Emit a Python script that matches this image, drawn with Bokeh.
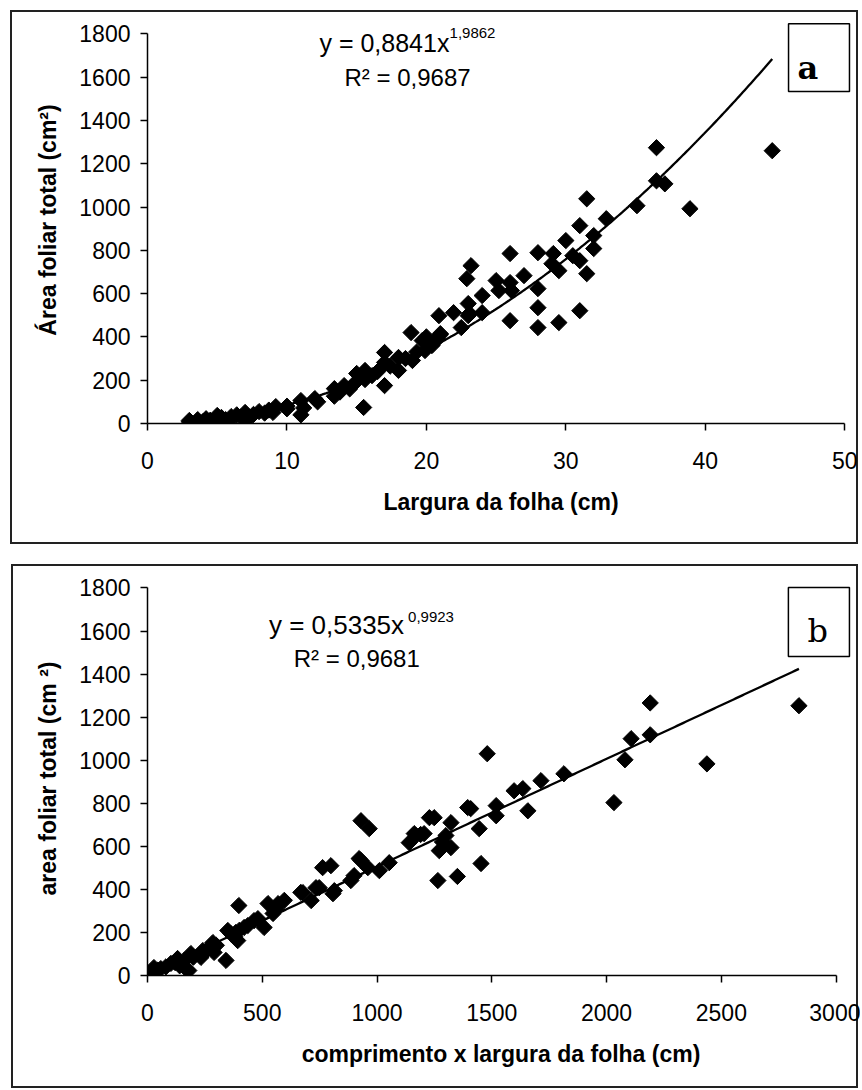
import numpy as np
from bokeh.plotting import figure
from bokeh.models import FixedTicker, Label, BoxAnnotation
from bokeh.layouts import column
from bokeh.embed import file_html
from bokeh.resources import INLINE

FONT = "Liberation Sans"

# ---------------- data: panel a (leaf width vs total leaf area) ----------------
largura_a = [3.0, 3.0, 3.5, 3.6, 4.0, 4.2, 4.5, 5.0, 5.0, 5.3, 5.6, 6.0, 6.0, 6.4, 6.7,
             7.0, 7.0, 7.3, 7.6, 8.0, 8.4, 8.7, 9.0, 9.2, 10.0, 10.0,
             11.0, 11.0, 11.2, 12.0, 12.2, 13.4, 13.4, 13.8, 14.1, 14.5, 14.9, 15.0, 15.5,
             15.6, 15.6, 16.1, 16.5, 17.0, 17.0, 17.0, 17.4, 18.0, 18.0, 18.5, 18.9, 19.0,
             19.3, 19.7, 19.9, 20.0, 20.4, 20.8, 21.0, 21.0,
             20.9, 21.95, 22.5, 23.0, 23.0, 23.2, 22.9, 23.1, 24.0, 24.0, 25.0, 25.2, 26.0,
             26.0, 26.1, 26.0, 27.0, 28.0, 28.0, 28.0, 28.0, 29.0, 29.1, 29.5, 29.5, 30.0,
             30.5, 31.0, 31.0, 31.0, 31.5, 31.5, 32.0, 32.0, 32.9, 35.1, 36.5, 36.5, 37.1,
             38.9, 44.8]
area_a = [14, 8, 5, 18, 10, 22, 15, 37, 22, 28, 18, 32, 20, 40, 30,
          51, 35, 25, 42, 55, 48, 62, 51, 78, 80, 68,
          106, 40, 72, 115, 100, 161, 126, 145, 175, 160, 189, 231, 74,
          245, 203, 221, 240, 175, 328, 282, 265, 305, 245, 300, 420, 291,
          330, 383, 337, 400, 360, 390, 410, 415,
          498, 512, 443, 554, 498, 729, 669, 508, 591, 512, 660, 614, 785,
          651, 614, 475, 683, 789, 623, 535, 443, 738, 785, 706, 466, 845,
          775, 752, 914, 521, 1038, 692, 868, 808, 946, 1006, 1274, 1121, 1107,
          992, 1260]
coef_a, power_a = 0.8841, 1.9862
eq_a, sup_a, r2_a = "y = 0,8841x", "1,9862", "R\u00b2 = 0,9687"

# ---------------- data: panel b (length x width vs total leaf area) ----------------
comp_b = [0, 21, 28, 45, 58, 80, 102, 120, 131, 140, 160, 167, 180, 189, 200, 233, 241,
          260, 285, 285, 290, 300, 342, 350, 363, 380, 385, 393, 398, 400, 421, 437,
          464, 481, 508, 525, 547, 560, 569, 596, 668, 677, 713, 734, 748, 763, 799,
          808, 814, 886, 900, 922, 930, 930, 960, 966, 1010, 1053, 1140, 1170, 1190,
          1228, 1249, 1265, 1271, 1300, 1322, 1322, 1350, 1395, 1408, 1445, 1453, 1480,
          1519, 1519, 1597, 1635, 1657, 1714, 1814, 2032, 2080, 2107, 2190, 2190, 2437,
          2838, 1162, 1205, 1285]
area_b = [9, 14, 37, 25, 32, 40, 56, 60, 79, 45, 70, 32, 23, 102, 85, 84, 116,
          120, 153, 130, 107, 140, 70, 209, 195, 180, 200, 162, 325, 210, 223, 232,
          255, 264, 223, 334, 288, 310, 334, 349, 386, 385, 348, 408, 408, 501, 510,
          380, 394, 441, 464, 543, 534, 719, 501, 682, 487, 524, 617, 650, 655,
          733, 733, 441, 580, 650, 594, 710, 460, 780, 775, 682, 520, 1030,
          789, 742, 858, 868, 765, 905, 937, 803, 1002, 1100, 1118, 1266, 983,
          1253, 659, 659, 620]
coef_b, power_b = 0.5335, 0.9923
eq_b, sup_b, r2_b = "y = 0,5335x", "0,9923", "R\u00b2 = 0,9681"

y_ticks = [0, 200, 400, 600, 800, 1000, 1200, 1400, 1600, 1800]
x_ticks_a = [0, 10, 20, 30, 40, 50]
x_ticks_b = [0, 500, 1000, 1500, 2000, 2500, 3000]


def frame_css(left, top, width, height, color="#222", lw=2):
    """CSS that paints the rectangular border around a whole chart panel."""
    g = f"linear-gradient({color},{color})"
    return {
        "background-image": ", ".join([g] * 4),
        "background-size": f"{width}px {lw}px, {width}px {lw}px, {lw}px {height}px, {lw}px {height}px",
        "background-position": (f"{left}px {top}px, {left}px {top + height - lw}px, "
                                f"{left}px {top}px, {left + width - lw}px {top}px"),
        "background-repeat": "no-repeat",
    }


def style_axes(p, xticks, yticks, xlabel, ylabel):
    p.xgrid.visible = False
    p.ygrid.visible = False
    for ax in (p.xaxis[0], p.yaxis[0]):
        ax.axis_line_color = "black"
        ax.axis_line_width = 1.5
        ax.major_tick_line_color = "black"
        ax.major_tick_line_width = 1.5
        ax.major_tick_in = 0
        ax.major_tick_out = 7
        ax.minor_tick_line_color = None
        ax.major_label_text_font = FONT
        ax.major_label_text_font_size = "23px"
        ax.major_label_text_color = "black"
        ax.axis_label_text_font = FONT
        ax.axis_label_text_font_style = "bold"
        ax.axis_label_text_font_size = "23px"
        ax.axis_label_text_color = "black"
    p.xaxis.ticker = FixedTicker(ticks=xticks)
    p.yaxis.ticker = FixedTicker(ticks=yticks)
    p.xaxis.bounds = (xticks[0], xticks[-1])
    p.yaxis.bounds = (yticks[0], yticks[-1])
    p.xaxis.axis_label = xlabel
    p.yaxis.axis_label = ylabel
    p.xaxis.major_label_standoff = 21
    p.xaxis.axis_label_standoff = 17
    p.yaxis.major_label_standoff = 10
    p.yaxis.axis_label_standoff = 15


def add_text(p, x, y, text, size, font=FONT, align="left", style="normal"):
    p.add_layout(Label(x=x, y=y, text=text, text_font=font, text_font_size=size,
                       text_align=align, text_baseline="alphabetic",
                       text_font_style=style, text_color="black"))


def letter_box(p, left, right, top, bottom):
    p.add_layout(BoxAnnotation(left=left, right=right, top=top, bottom=bottom,
                               fill_color="white", fill_alpha=1.0,
                               line_color="black", line_alpha=1.0, line_width=1.5,
                               level="annotation"))


# ---------------- panel a ----------------
pa = figure(frame_width=707, frame_height=407, x_range=(0, 50.7), y_range=(0, 1880),
            min_border_left=146, min_border_right=7, min_border_top=16, min_border_bottom=123,
            output_backend="svg", toolbar_location=None, outline_line_color=None,
            background_fill_color=None, border_fill_color=None,
            styles=frame_css(10, 10, 848, 534))
style_axes(pa, x_ticks_a, y_ticks, "Largura da folha (cm)", "Área foliar total (cm²)")
xa = np.linspace(min(largura_a), max(largura_a), 300)
pa.line(xa, coef_a * xa ** power_a, line_color="black", line_width=2.3)
pa.scatter(largura_a, area_a, marker="square", size=11.5, angle=np.pi / 4,
           fill_color="black", line_color="black")
add_text(pa, 12.33, 1757, eq_a, "25px")
add_text(pa, 21.66, 1803, sup_a, "15px")
add_text(pa, 14.13, 1600, r2_a, "24px")
letter_box(pa, 45.97, 50.34, 1847, 1534)
add_text(pa, 47.35, 1644, "a", "32px", font="DejaVu Serif", align="center", style="bold")

# ---------------- panel b ----------------
pb = figure(frame_width=707, frame_height=394, x_range=(0, 3080), y_range=(0, 1830),
            min_border_left=147, min_border_right=6, min_border_top=19, min_border_bottom=115,
            output_backend="svg", toolbar_location=None, outline_line_color=None,
            background_fill_color=None, border_fill_color=None,
            styles=frame_css(11, 2, 847, 524))
style_axes(pb, x_ticks_b, y_ticks, "comprimento x largura da folha (cm)",
           "area foliar total (cm ²)")
xb = np.linspace(min(comp_b), max(comp_b), 300)
pb.line(xb, coef_b * xb ** power_b, line_color="black", line_width=2.3)
pb.scatter(comp_b, area_b, marker="square", size=11.5, angle=np.pi / 4,
           fill_color="black", line_color="black")
add_text(pb, 529, 1630, eq_b, "26px")
add_text(pb, 1135, 1667, sup_b, "15px")
add_text(pb, 637, 1474, r2_b, "24px")
letter_box(pb, 2792, 3058, 1802, 1482)
add_text(pb, 2920, 1602, "b", "32px", font="DejaVu Serif", align="center")

layout = column(pa, pb, spacing=16)
open("out.html", "w").write(file_html(layout, INLINE))
